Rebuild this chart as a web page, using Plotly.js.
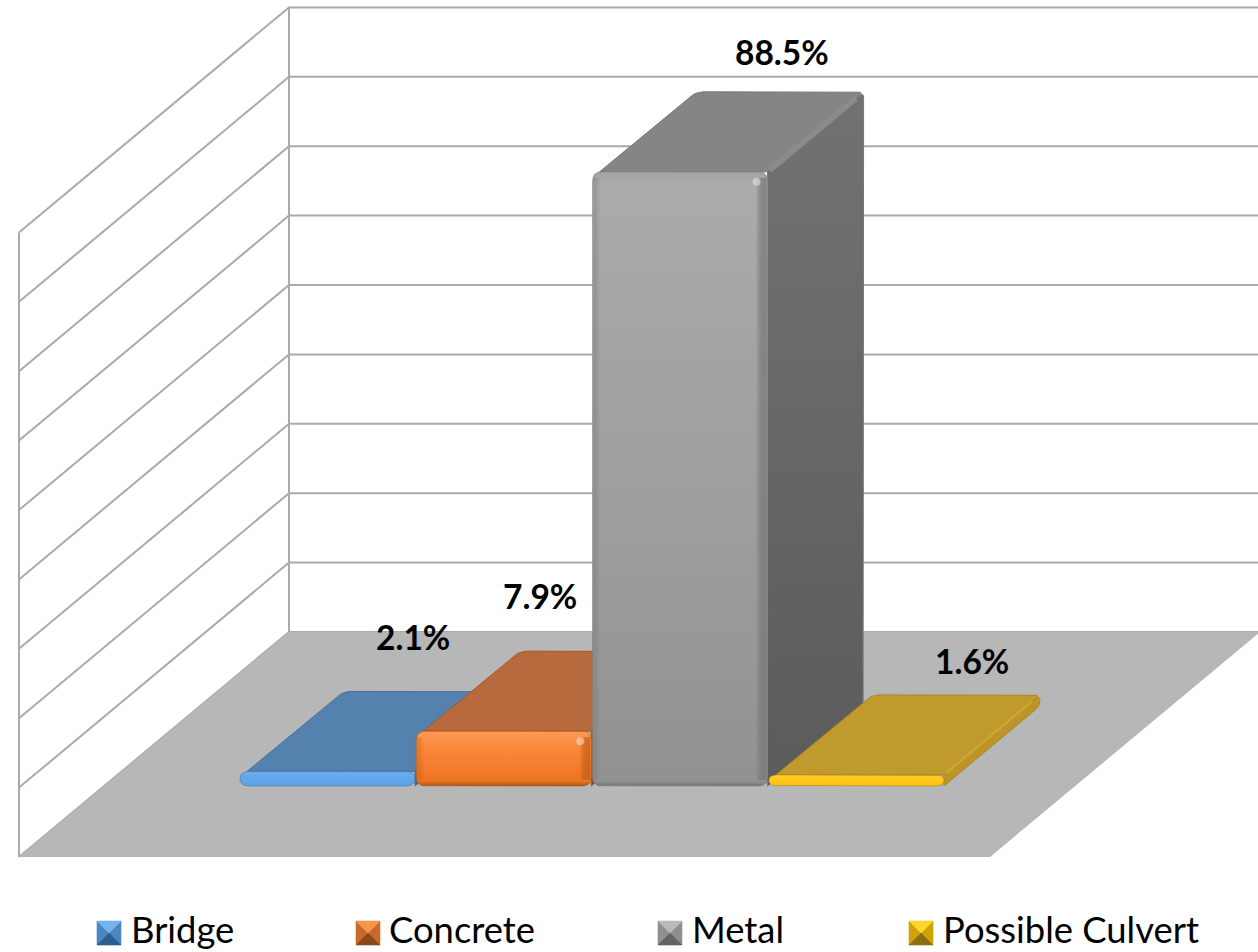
<!DOCTYPE html>
<html><head><meta charset="utf-8">
<script src="https://cdn.plot.ly/plotly-3.0.1.min.js"></script>
<style>html,body{margin:0;padding:0;background:#fff}</style></head>
<body><div id="chart" style="width:1258px;height:952px"></div>
<script>
// --- data ---
const categories = ["Bridge", "Concrete", "Metal", "Possible Culvert"];
const values = [2.1, 7.9, 88.5, 1.6];
const gridValues = [0, 10, 20, 30, 40, 50, 60, 70, 80, 90];

// --- styles, per series ---
const faceTop   = ["#5581ae", "#b66a3d", "#858585", "#c09a2c"];
const faceLight = ["#6ab0f0", "#ff9a58", "#a4a4a4", "#ffd02a"];
const faceHigh  = ["#62a8ec", "#fb8a3e", "#ababab", "#ffc71a"];
const faceLow   = ["#5ca2e6", "#ee7420", "#929292", "#fcc014"];
const faceEdge  = ["#47729f", "#a9561c", "#767676", "#a98a18"];
const sideHigh  = ["#47729f", "#9a5a30", "#727272", "#bb9529"];
const sideLow   = ["#3d6690", "#8a4f28", "#5b5b5b", "#bb9529"];
const ridge     = ["#5f8cba", "#c27a4c", "#8b8b8b", "#cfa92c"];
const bevelRGB  = ["90,130,190", "190,90,20", "115,115,115", "190,150,20"];
const keyTop    = ["#74b4ee", "#f59547", "#bababa", "#ffd52e"];
const keySide   = ["#4a86c0", "#c96a2a", "#8f8f8f", "#d0a205"];
const keyLow    = ["#2d5d8e", "#8c4a1a", "#636363", "#8a6e10"];

// --- layout constants ---
const W = 1258, H = 952;
const UNIT = 176.3, X0 = 327.5;      // px per bar slot, px of first bar centre
const VPX = 6.94, Y0 = 786;          // px per percentage point, px of bar base
const DX = 96, DY = 80;              // oblique shift for one bar depth
const BAR = 175 / UNIT;
const FRONT = -0.8875, BACK = 1.925; // floor depth limits
const floorL = (104.2 - X0) / UNIT, floorR = (1075.2 - X0) / UNIT;
const labelShiftX = [-11, -59.5, 6, 20];   // data label offset from back-top centre
const labelShiftY = [54, 55, 40, 34];
const legendKeyX = [97, 356, 658, 909];
const legendTextX = [129.5, 387.5, 691, 941.5];
const LEGEND_Y = 933, LEGEND_TEXT_Y = 929, KEY = 12;

// --- projection ---
const P = (u, v, d) => [u + d * DX / UNIT, v + d * DY / VPX];
const toPx = p => [p[0] * UNIT, -p[1] * VPX];

function rounded(pts, radii) {
  const out = [], n = pts.length;
  for (let i = 0; i < n; i++) {
    const r = Array.isArray(radii) ? radii[i] : radii;
    const c = pts[i], a = pts[(i + n - 1) % n], b = pts[(i + 1) % n];
    if (!r) { out.push(c); continue; }
    const pc = toPx(c), pa = toPx(a), pb = toPx(b);
    const la = Math.hypot(pa[0] - pc[0], pa[1] - pc[1]);
    const lb = Math.hypot(pb[0] - pc[0], pb[1] - pc[1]);
    const ta = Math.min(r, la / 2) / la, tb = Math.min(r, lb / 2) / lb;
    const s = [c[0] + (a[0] - c[0]) * ta, c[1] + (a[1] - c[1]) * ta];
    const e = [c[0] + (b[0] - c[0]) * tb, c[1] + (b[1] - c[1]) * tb];
    for (let k = 0; k <= 6; k++) {
      const t = k / 6, m = 1 - t;
      out.push([m * m * s[0] + 2 * m * t * c[0] + t * t * e[0],
                m * m * s[1] + 2 * m * t * c[1] + t * t * e[1]]);
    }
  }
  out.push(out[0]);
  return out;
}
function poly(pts, extra) {
  return Object.assign({
    x: pts.map(p => p[0]), y: pts.map(p => p[1]), type: "scatter", mode: "lines",
    fill: "toself", hoverinfo: "skip", showlegend: false, line: {width: 0}
  }, extra);
}
function line(pts, color, width, name) {
  return {x: pts.map(p => p ? p[0] : null), y: pts.map(p => p ? p[1] : null), type: "scatter",
    mode: "lines", hoverinfo: "skip", showlegend: false, name,
    line: {color, width}, connectgaps: false};
}

const traces = [];
// walls: grid lines
const wallPts = [];
gridValues.forEach(v => {
  wallPts.push(P(floorL, v, FRONT), P(floorL, v, BACK), P(floorR + 0.2, v, BACK), null);
});
const topGrid = gridValues[gridValues.length - 1];
wallPts.push(P(floorL, 0, FRONT), P(floorL, topGrid, FRONT), null);
wallPts.push(P(floorL, 0, BACK), P(floorL, topGrid, BACK), null);
traces.push(line(wallPts, "#aaaaaa", 2, "grid"));
// floor
traces.push(poly([P(floorL, 0, FRONT), P(floorL, 0, BACK), P(floorR, 0, BACK), P(floorR, 0, FRONT), P(floorL, 0, FRONT)],
  {fillcolor: "#b7b7b7", name: "floor"}));

// bars
values.forEach((v, i) => {
  const uL = i - BAR / 2, uR = i + BAR / 2, name = categories[i];
  const inset = 7 / UNIT, h = v * VPX;
  // side
  traces.push(poly(rounded([P(uR, v, 0), P(uR, v, 1), P(uR, 0, 1), P(uR, 0, 0)], [0, 6, 6, 0]), {
    fillcolor: sideHigh[i], name, line: {color: faceEdge[i], width: 1},
    fillgradient: {type: "vertical", start: v + DY / VPX, stop: 0,
      colorscale: [[0, sideHigh[i]], [1, sideLow[i]]]}
  }));
  // top
  traces.push(poly(rounded([P(uL + inset, v, 0), P(uL + inset, v, 1), P(uR, v, 1), P(uR, v, 0)], [0, 9, 6, 0]),
    {fillcolor: faceTop[i], line: {color: faceEdge[i], width: 1}, name}));
  // ridge between top and side
  traces.push(line([P(uR, v, 0.02), P(uR, v, 0.92)], ridge[i], v > 5 ? 6 : 2, name));
  // front
  const band = Math.min(14 / h, 0.45);
  const stops = h > 30
    ? [[0, faceLight[i]], [band, faceHigh[i]], [1 - 5 / h, faceLow[i]], [1, faceEdge[i]]]
    : [[0, faceLight[i]], [band, faceHigh[i]], [1, faceLow[i]]];
  traces.push(poly(rounded([[uL, v], [uR, v], [uR, 0], [uL, 0]], 9), {
    fillcolor: faceHigh[i], name, line: {color: faceEdge[i], width: 0.6},
    fillgradient: {type: "vertical", start: v, stop: 0, colorscale: stops}
  }));
  // soft side bevels and specular spot, only on bars tall enough to show them
  if (h > 30) {
    const bw = 12 / UNIT, pad = 6 / VPX;
    const rgb = bevelRGB[i];
    traces.push(poly([[uR - bw, v - pad], [uR - 1 / UNIT, v - pad], [uR - 1 / UNIT, pad], [uR - bw, pad], [uR - bw, v - pad]], {
      fillcolor: `rgba(${rgb},.3)`, name,
      fillgradient: {type: "horizontal", start: uR - bw, stop: uR - 1 / UNIT,
        colorscale: [[0, `rgba(${rgb},0)`], [0.4, `rgba(${rgb},.55)`], [1, `rgba(${rgb},.75)`]]}
    }));
    traces.push(poly([[uL + 1 / UNIT, v - pad], [uL + 8 / UNIT, v - pad], [uL + 8 / UNIT, pad], [uL + 1 / UNIT, pad], [uL + 1 / UNIT, v - pad]], {
      fillcolor: `rgba(${rgb},.2)`, name,
      fillgradient: {type: "horizontal", start: uL + 1 / UNIT, stop: uL + 8 / UNIT,
        colorscale: [[0, `rgba(${rgb},.45)`], [1, `rgba(${rgb},0)`]]}
    }));
    traces.push({x: [uR - 11 / UNIT], y: [v - 10 / VPX], type: "scatter", mode: "markers",
      hoverinfo: "skip", showlegend: false, name,
      marker: {size: 8, color: "rgba(255,255,255,.4)", line: {width: 0}}});
  }
});

// data labels
const annotations = values.map((v, i) => {
  const p = P(i, v, 1);
  return {x: p[0], y: p[1], xref: "x", yref: "y", text: v.toFixed(1) + "%", showarrow: false,
    xshift: labelShiftX[i], yshift: labelShiftY[i], xanchor: "center", yanchor: "middle",
    font: {family: "Lato, Carlito, sans-serif", size: 33.5, color: "#000", weight: 700}};
});
// legend text
categories.forEach((c, i) => {
  annotations.push({x: legendTextX[i] / W, y: 1 - LEGEND_TEXT_Y / H, xref: "paper", yref: "paper", text: c,
    showarrow: false, xanchor: "left", yanchor: "middle", borderpad: 0,
    font: {family: "Lato, Carlito, sans-serif", size: 36.4, color: "#000"}});
});
// legend keys
const shapes = [];
categories.forEach((c, i) => {
  const x0 = legendKeyX[i], x1 = x0 + 2 * KEY, xc = x0 + KEY, y0 = LEGEND_Y - KEY, y1 = LEGEND_Y + KEY, yc = LEGEND_Y;
  const X = x => (x / W).toFixed(5), Y = y => (1 - y / H).toFixed(5);
  const tri = (a, b, col) => shapes.push({type: "path", xref: "paper", yref: "paper", layer: "above",
    line: {width: 0.6, color: col}, fillcolor: col,
    path: `M${X(a[0])},${Y(a[1])}L${X(b[0])},${Y(b[1])}L${X(xc)},${Y(yc)}Z`});
  tri([x0, y0], [x0, y1], keySide[i]);
  tri([x1, y0], [x1, y1], keySide[i]);
  tri([x0, y0], [x1, y0], keyTop[i]);
  tri([x0, y1], [x1, y1], keyLow[i]);
});

const layout = {
  width: W, height: H, margin: {l: 0, r: 0, t: 0, b: 0}, showlegend: false,
  paper_bgcolor: "#fff", plot_bgcolor: "#fff",
  xaxis: {visible: false, range: [-X0 / UNIT, (W - X0) / UNIT], fixedrange: true},
  yaxis: {visible: false, range: [(Y0 - H) / VPX, Y0 / VPX], fixedrange: true},
  annotations, shapes
};
Plotly.newPlot("chart", traces, layout, {displayModeBar: false, staticPlot: true});
</script></body></html>
